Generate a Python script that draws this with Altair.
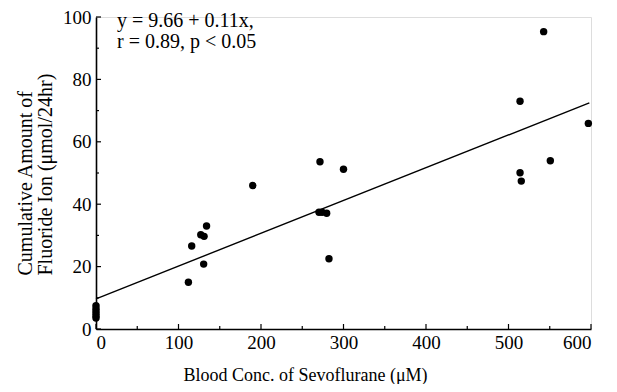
import altair as alt
import pandas as pd

# Data points
conc = [0, 0, 0, 0, 0, 0,
        112, 116, 127, 131, 134, 130.5, 190,
        271.5, 300, 270.3, 274, 279.6, 282.4,
        514, 542.6, 596.8, 550.7, 514, 515.5]
fluoride = [3.5, 4.2, 5.0, 5.8, 6.6, 7.5,
            15.0, 26.6, 30.2, 29.7, 33.0, 20.8, 46.0,
            53.6, 51.2, 37.4, 37.4, 37.1, 22.5,
            73.0, 95.3, 65.9, 53.9, 50.1, 47.4]

# Regression line endpoints
line_x = [0, 598]
line_y = [9.66, 72.5]

x_major = [0, 100, 200, 300, 400, 500, 600]
x_minor = [50, 150, 250, 350, 450, 550]
y_major = [0, 20, 40, 60, 80, 100]
y_minor = [10, 30, 50, 70, 90]

annotation = ["y = 9.66 + 0.11x,", "r = 0.89,  p < 0.05"]
x_title = "Blood Conc. of Sevoflurane (\u03bcM)"
y_title = ["Cumulative Amount of", "Fluoride Ion (\u03bcmol/24hr)"]

FONT = "Liberation Serif"
W, H = 495, 312

pts = pd.DataFrame({"conc": conc, "fluoride": fluoride})
ln = pd.DataFrame({"conc": line_x, "fluoride": line_y})

xs = alt.Scale(domain=[0, 600], nice=False, zero=False)
ys = alt.Scale(domain=[0, 100], nice=False, zero=False)

x_axis = alt.Axis(values=x_major, ticks=False, grid=False, domainColor="black",
                  domainWidth=1.6, labelFont=FONT, labelFontSize=19, labelColor="black",
                  labelPadding=4, title=x_title, titleFont=FONT, titleFontSize=18,
                  titleFontWeight="normal", titleColor="black",
                  titleX=209, titleY=46, titleAlign="center", titleBaseline="middle")
y_axis = alt.Axis(values=y_major, ticks=False, grid=False, domainColor="black",
                  domainWidth=1.6, labelFont=FONT, labelFontSize=19, labelColor="black",
                  labelPadding=5, title=y_title, titleFont=FONT, titleFontSize=20,
                  titleFontWeight="normal", titleColor="black", titleLineHeight=20,
                  titleAngle=270, titleX=-65, titleY=258, titleAlign="left",
                  titleBaseline="alphabetic")

points = alt.Chart(pts).mark_circle(size=55, color="black", opacity=1).encode(
    x=alt.X("conc:Q", scale=xs, axis=x_axis),
    y=alt.Y("fluoride:Q", scale=ys, axis=y_axis),
)

reg = alt.Chart(ln).mark_line(color="black", strokeWidth=1.4).encode(
    x=alt.X("conc:Q", scale=xs),
    y=alt.Y("fluoride:Q", scale=ys),
)

def xticks(vals, length):
    return alt.Chart(pd.DataFrame({"t": vals})).mark_rule(color="black", strokeWidth=1.2).encode(
        x=alt.X("t:Q", scale=xs), y=alt.value(H), y2=alt.value(H - length))

def yticks(vals, length):
    return alt.Chart(pd.DataFrame({"t": vals})).mark_rule(color="black", strokeWidth=1.2).encode(
        y=alt.Y("t:Q", scale=ys), x=alt.value(0), x2=alt.value(length))

ann = alt.Chart(pd.DataFrame({"a": [0]})).mark_text(
    text=annotation, font=FONT, fontSize=20, align="left", baseline="alphabetic",
    lineHeight=21, color="black"
).encode(x=alt.value(21), y=alt.value(10))

chart = alt.layer(
    reg, points,
    xticks(x_major, 5), xticks(x_minor, 3),
    yticks(y_major, 5), yticks(y_minor, 3),
    ann,
).properties(
    width=W, height=H,
    autosize=alt.AutoSizeParams(type="none"),
    padding={"left": 88, "top": 9, "right": 18, "bottom": 55},
).configure_view(stroke=None).configure(background="white")

chart.save("out.html", embed_options={"renderer": "svg", "actions": False})
